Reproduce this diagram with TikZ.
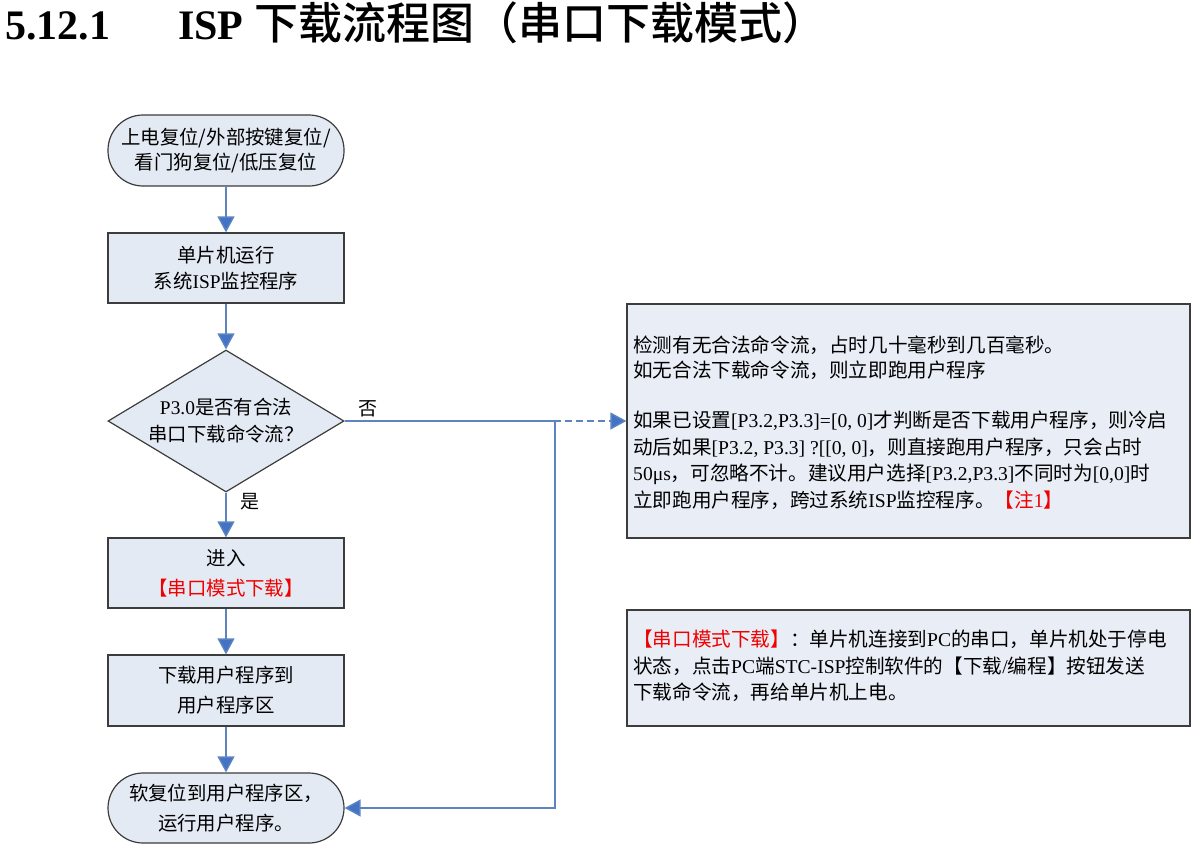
\documentclass[tikz,border=0pt]{standalone}
\usepackage{fontspec}
\setmainfont{Noto Sans CJK SC}
\newfontfamily\tm{Liberation Serif}
\newfontfamily\heimed{Noto Sans CJK SC Medium}
\usetikzlibrary{arrows.meta,shapes.geometric}
\newcommand\T[1]{{\tm #1}}
\definecolor{nodefill}{HTML}{E4EAF4}
\definecolor{notefill}{HTML}{E8EDF6}
\definecolor{nodeedge}{HTML}{3C3C3C}
\definecolor{arrowblue}{HTML}{5B84C0}
\definecolor{tipblue}{HTML}{4472C4}
\definecolor{notered}{HTML}{F00000}
\tikzset{
  box/.style={draw=nodeedge, line width=1.2pt, fill=nodefill, minimum width=236pt,
    minimum height=70pt, inner sep=0pt, align=center},
  term/.style={box, rounded corners=35pt},
  dec/.style={box, shape=diamond, aspect=1.66, minimum height=142pt},
  notebox/.style={draw=nodeedge, line width=1.2pt, fill=notefill, minimum width=563pt, inner sep=0pt},
  notetext/.style={anchor=north west, inner sep=0pt, align=left, font=\fontsize{19.6}{26.5}\selectfont},
  flow/.style={draw=arrowblue, line width=1.4pt, -{Triangle[width=17pt,length=16pt,fill=tipblue]}},
  lbl/.style={inner sep=0pt, font=\fontsize{19}{19}\selectfont}
}
\begin{document}
\begin{tikzpicture}[x=1pt,y=-1pt]
\useasboundingbox (0,0) rectangle (1198,851);
% title
\node[anchor=base west, inner sep=0pt] (t1) at (5,40) {\fontsize{42}{42}\selectfont\tm\bfseries 5.12.1};
\node[anchor=base west, inner sep=0pt] (t2) at (178,40) {\fontsize{42}{42}\selectfont\tm\bfseries ISP};
\node[anchor=base west, inner sep=0pt] (t3) at (254,40) {\fontsize{44}{44}\selectfont\heimed 下载流程图（串口下载模式）};
% flow nodes
\node[term, minimum height=71pt, font=\fontsize{19.4}{25}\selectfont] (start) at (226,150.5) {上电复位/外部按键复位/\\看门狗复位/低压复位};
\node[box, font=\fontsize{19.4}{26}\selectfont] (mon) at (226,268) {单片机运行\\系统\T{ISP}监控程序};
\node[dec, font=\fontsize{19.4}{27}\selectfont] (dec) at (226,421) {\T{P3.0}是否有合法\\串口下载命令流？};
\node[box, font=\fontsize{19.4}{30}\selectfont] (enter) at (226,573) {进入\\\textcolor{notered}{【串口模式下载】}};
\node[box, minimum height=71pt, font=\fontsize{19.4}{30}\selectfont] (dl) at (226,690.5) {下载用户程序到\\用户程序区};
\node[term, font=\fontsize{19.4}{30}\selectfont] (fin) at (226,808) {软复位到用户程序区，\\运行用户程序。};
% notes
\node[notebox, minimum height=234pt] (note1) at (908.5,421) {};
\node[notetext] (note1t) at (633,336) {检测有无合法命令流，占时几十毫秒到几百毫秒。\\[-2pt]
如无合法下载命令流，则立即跑用户程序\\[24pt]
如果已设置\T{[P3.2,P3.3]=[0, 0]}才判断是否下载用户程序，则冷启\\
动后如果\T{[P3.2, P3.3] ?[[0, 0]}，则直接跑用户程序，只会占时\\
\T{50μs}，可忽略不计。建议用户选择\T{[P3.2,P3.3]}不同时为\T{[0,0]}时\\
立即跑用户程序，跨过系统\T{ISP}监控程序。\textcolor{notered}{【注\T{1}】}};
\node[notebox, minimum height=116pt] (note2) at (908.5,668) {};
\node[notetext] (note2t) at (633,630) {\textcolor{notered}{【串口模式下载】}：单片机连接到\T{PC}的串口，单片机处于停电\\
状态，点击\T{PC}端\T{STC-ISP}控制软件的【下载\T{/}编程】按钮发送\\
下载命令流，再给单片机上电。};
% connectors
\draw[flow] (start) -- (mon);
\draw[flow] (mon) -- (dec);
\draw[flow] (dec) -- (enter);
\draw[flow] (enter) -- (dl);
\draw[flow] (dl) -- (fin);
\coordinate (j) at (555,421);
\draw[flow] (dec.east) -- (j) |- (fin.east);
\draw[flow, dash pattern=on 7pt off 4pt] (dec.east) -- (note1.west);
\node[lbl] (no) at (368,409) {否};
\node[lbl] (yes) at (250,502) {是};
\end{tikzpicture}
\end{document}
